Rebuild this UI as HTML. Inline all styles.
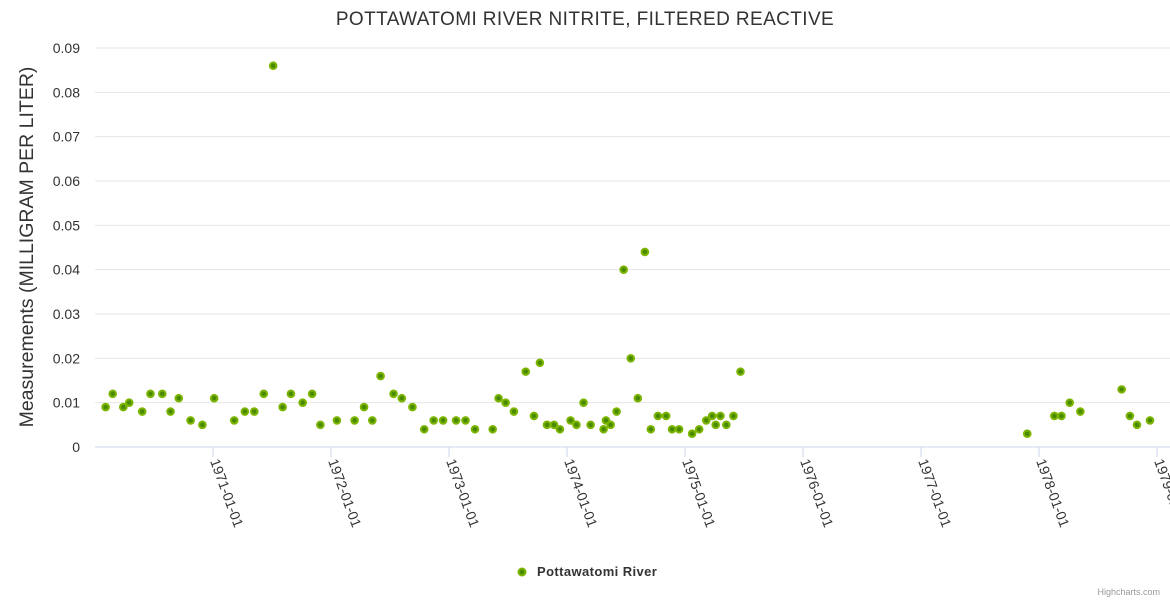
<!DOCTYPE html>
<html><head><meta charset="utf-8"><style>
body{margin:0;background:#fff;}
svg text{font-family:"Liberation Sans",sans-serif;}
</style></head><body>
<svg id="chart" width="1170" height="600" xmlns="http://www.w3.org/2000/svg">
<text x="585" y="25" text-anchor="middle" font-size="19" letter-spacing="0.4" fill="#333">POTTAWATOMI RIVER NITRITE, FILTERED REACTIVE</text>
<g id="grid"></g><g id="yticks"></g><g id="xticks"></g>
<text transform="translate(33,247) rotate(-90)" text-anchor="middle" font-size="19.5" fill="#333">Measurements (MILLIGRAM PER LITER)</text>
<g id="points"></g>
<g>
<circle cx="522" cy="572" r="3.5" fill="#4a8a00" stroke="#7cb500" stroke-width="2"/>
<text x="537" y="576" font-size="13" letter-spacing="0.4" font-weight="bold" fill="#333">Pottawatomi River</text></g>
<text x="1160" y="595" text-anchor="end" font-size="9" fill="#999">Highcharts.com</text>
</svg>
<script>
const yTicks=[0,0.01,0.02,0.03,0.04,0.05,0.06,0.07,0.08,0.09];
const yTickLabels=["0","0.01","0.02","0.03","0.04","0.05","0.06","0.07","0.08","0.09"];
const xTicks=[1971,1972,1973,1974,1975,1976,1977,1978,1979];
const xTickLabels=["1971-01-01","1972-01-01","1973-01-01","1974-01-01","1975-01-01","1976-01-01","1977-01-01","1978-01-01","1979-01-01"];
const dates=[1970.09,1970.15,1970.24,1970.29,1970.40,1970.47,1970.57,1970.64,1970.71,1970.81,1970.91,1971.01,1971.18,1971.27,1971.35,1971.43,1971.51,1971.59,1971.66,1971.76,1971.84,1971.91,1972.05,1972.20,1972.28,1972.35,1972.42,1972.53,1972.60,1972.69,1972.79,1972.87,1972.95,1973.06,1973.14,1973.22,1973.37,1973.42,1973.48,1973.55,1973.65,1973.72,1973.77,1973.83,1973.89,1973.94,1974.03,1974.08,1974.14,1974.20,1974.31,1974.33,1974.37,1974.42,1974.48,1974.54,1974.60,1974.66,1974.71,1974.77,1974.84,1974.89,1974.95,1975.06,1975.12,1975.18,1975.23,1975.26,1975.30,1975.35,1975.41,1975.47,1977.90,1978.13,1978.19,1978.26,1978.35,1978.70,1978.77,1978.83,1978.94];
const values=[0.009,0.012,0.009,0.010,0.008,0.012,0.012,0.008,0.011,0.006,0.005,0.011,0.006,0.008,0.008,0.012,0.086,0.009,0.012,0.010,0.012,0.005,0.006,0.006,0.009,0.006,0.016,0.012,0.011,0.009,0.004,0.006,0.006,0.006,0.006,0.004,0.004,0.011,0.010,0.008,0.017,0.007,0.019,0.005,0.005,0.004,0.006,0.005,0.010,0.005,0.004,0.006,0.005,0.008,0.040,0.020,0.011,0.044,0.004,0.007,0.007,0.004,0.004,0.003,0.004,0.006,0.007,0.005,0.007,0.005,0.007,0.017,0.003,0.007,0.007,0.010,0.008,0.013,0.007,0.005,0.006];
const NS="http://www.w3.org/2000/svg";
const L=95,R=1160,T=48,B=447,xMin=1970,xMax=1979.025,yMax=0.09;
const xs=v=>L+(v-xMin)/(xMax-xMin)*(R-L);
const ys=v=>B-v/yMax*(B-T);
function mk(t,a,p){const e=document.createElementNS(NS,t);for(const k in a)e.setAttribute(k,a[k]);document.getElementById(p).appendChild(e);return e;}
yTicks.forEach((v,i)=>{
 const g=mk('line',{x1:L,x2:R+10,y1:ys(v),y2:ys(v),stroke:i==0?'#ccd6eb':'#e6e6e6','stroke-width':1},'grid');
 
 
 const t=mk('text',{x:80,y:ys(v)+5,'text-anchor':'end','font-size':14,fill:'#333'},'yticks');
 t.textContent=yTickLabels[i];
 
 
});
xTicks.forEach((v,i)=>{
 const x=xs(v);
 const l=mk('line',{x1:x,x2:x,y1:B,y2:B+10,stroke:'#ccd6eb'},'xticks');
 
 
 const t=mk('text',{transform:`translate(${x-3},${B+14}) rotate(70)`,'font-size':14,fill:'#333'},'xticks');
 t.textContent=xTickLabels[i];
 
 
});
dates.forEach((d,i)=>{
 const c=mk('circle',{cx:xs(d),cy:ys(values[i]),r:3.3,fill:'#4a8a00',stroke:'#7cb500','stroke-width':2},'points');
 
 
});
</script>
</body></html>
